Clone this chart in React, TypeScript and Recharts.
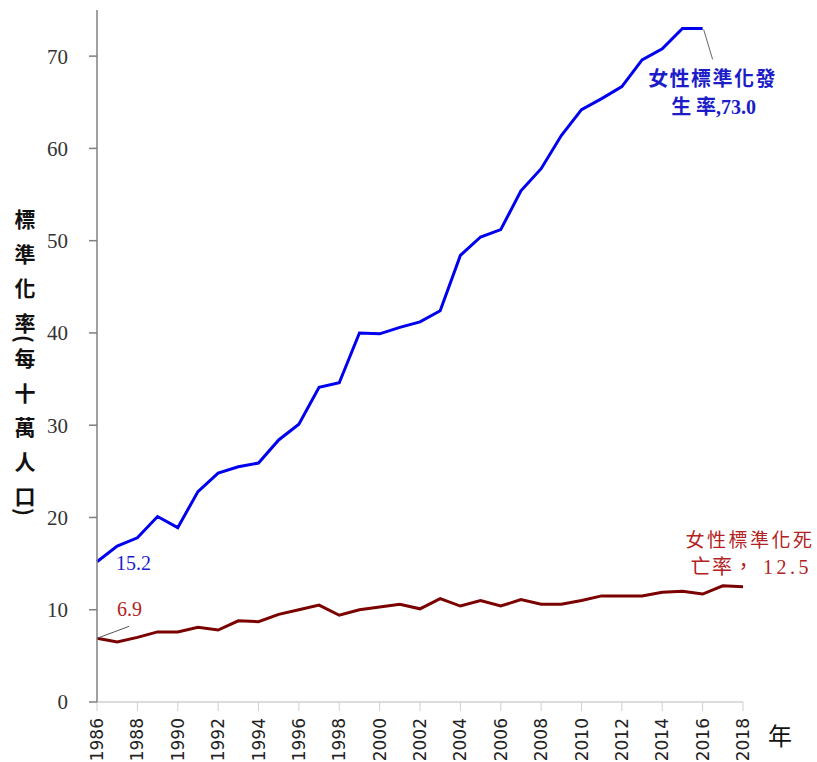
import { LineChart, Line, XAxis, YAxis, Label } from "recharts";

const YEARS = [
  1986, 1987, 1988, 1989, 1990, 1991, 1992, 1993, 1994, 1995, 1996, 1997, 1998, 1999, 2000, 2001, 2002,
  2003, 2004, 2005, 2006, 2007, 2008, 2009, 2010, 2011, 2012, 2013, 2014, 2015, 2016, 2017, 2018,
];

// 女性標準化發生率 (ends 2016)
const INCIDENCE = [
  15.2, 16.9, 17.8, 20.1, 18.9, 22.8, 24.8, 25.5, 25.9, 28.4, 30.1, 34.1, 34.6, 40.0, 39.9, 40.6, 41.2,
  42.4, 48.4, 50.4, 51.2, 55.4, 57.8, 61.4, 64.2, 65.4, 66.7, 69.6, 70.8, 73.0, 73.0, null, null,
];

// 女性標準化死亡率
const MORTALITY = [
  6.9, 6.5, 7.0, 7.6, 7.6, 8.1, 7.8, 8.8, 8.7, 9.5, 10.0, 10.5, 9.4, 10.0, 10.3, 10.6, 10.1,
  11.2, 10.4, 11.0, 10.4, 11.1, 10.6, 10.6, 11.0, 11.5, 11.5, 11.5, 11.9, 12.0, 11.7, 12.6, 12.5,
];

const X_TICKS = [1986, 1988, 1990, 1992, 1994, 1996, 1998, 2000, 2002, 2004, 2006, 2008, 2010, 2012, 2014, 2016, 2018];
const Y_TICKS = [0, 10, 20, 30, 40, 50, 60, 70];
const Y_TITLE = "標準化率(每十萬人口)";
const X_TITLE = "年";

const BLUE = "#0000ee";
const BLUE_TEXT = "#1c1cc8";
const RED = "#7b0000";
const RED_TEXT = "#b22222";
const SERIF = '"Liberation Serif", "Noto Sans CJK TC", serif';
const CJK = '"Noto Sans CJK TC", sans-serif';

const data = YEARS.map((year, i) => ({ year, incidence: INCIDENCE[i], mortality: MORTALITY[i] }));

function YearTick({ x, y, payload }: any) {
  const bx = x + 6;
  return (
    <text
      x={bx}
      y={y}
      transform={`rotate(-90 ${bx} ${y})`}
      textAnchor="end"
      fontFamily='"DejaVu Sans", sans-serif'
      fontSize={17}
      fill="#222"
    >
      {payload.value}
    </text>
  );
}

function YTitle() {
  // vertical writing: brackets get turned sideways by the browser
  const chars = Array.from(Y_TITLE);
  return (
    <text
      x={25}
      y={209}
      fontSize={21}
      fontWeight="bold"
      fill="#111"
      fontFamily={CJK}
      style={{ writingMode: "vertical-rl" } as any}
    >
      {chars.map((ch, i) => {
        const next = chars[i + 1];
        const paren = ch === "(" || ch === ")";
        const ls = paren ? 6 : next === "(" || next === ")" ? 1 : 13.5;
        return (
          <tspan key={i} letterSpacing={ls}>
            {ch}
          </tspan>
        );
      })}
    </text>
  );
}

function incidenceLabel(props: any) {
  const { x, y, index, value } = props;
  if (index === 0) {
    return (
      <text x={x + 19} y={y + 8} fill={BLUE_TEXT} fontSize={20} fontFamily={SERIF}>
        {Number(value).toFixed(1)}
      </text>
    );
  }
  if (index === 30) {
    return (
      <g>
        <line x1={x + 1} y1={y + 1} x2={x + 10} y2={y + 31} stroke="#666" strokeWidth={1} />
        <text x={x + 10} y={y + 58} textAnchor="middle" fill={BLUE_TEXT} fontSize={20} fontWeight="bold"
          fontFamily={SERIF} letterSpacing={1.5}>
          女性標準化發
        </text>
        <text x={x + 11} y={y + 86} textAnchor="middle" fill={BLUE_TEXT} fontSize={20} fontWeight="bold"
          fontFamily={SERIF}>
          {`生 率,${Number(value).toFixed(1)}`}
        </text>
      </g>
    );
  }
  return null;
}

function mortalityLabel(props: any) {
  const { x, y, index, value } = props;
  if (index === 0) {
    return (
      <g>
        <line x1={x} y1={y} x2={x + 32} y2={y - 12} stroke="#555" strokeWidth={1} />
        <text x={x + 20} y={y - 22} fill={RED_TEXT} fontSize={20} fontFamily={SERIF}>
          {Number(value).toFixed(1)}
        </text>
      </g>
    );
  }
  if (index === YEARS.length - 1) {
    return (
      <g>
        <text x={x + 7} y={y - 40} textAnchor="middle" fill={RED_TEXT} fontSize={19} fontFamily={SERIF}
          letterSpacing={2.5}>
          女性標準化死
        </text>
        <text x={x + 69} y={y - 13} textAnchor="end" fill={RED_TEXT} fontSize={20} fontFamily={SERIF}>
          <tspan letterSpacing={1.5}>亡率，</tspan>
          <tspan dx={8} letterSpacing={3.5}>{Number(value).toFixed(1)}</tspan>
        </text>
      </g>
    );
  }
  return null;
}

export default function App() {
  return (
    <div style={{ width: 817, height: 762, background: "#fff" }}>
      <style>{"body{margin:0;}"}</style>
      <LineChart width={817} height={762} data={data} margin={{ top: 10, right: 74, left: 0, bottom: 0 }}>
        <XAxis
          dataKey="year"
          type="number"
          domain={[1986, 2018]}
          ticks={X_TICKS}
          height={60}
          axisLine={{ stroke: "#d0d0d0", strokeWidth: 1.5 }}
          tickLine={{ stroke: "#d0d0d0" }}
          tickSize={9}
          tickMargin={7}
          tick={<YearTick />}
          interval={0}
        >
          <Label
            content={() => (
              <text x={780} y={745} textAnchor="middle" fontSize={24} fill="#111" fontFamily={CJK}>
                {X_TITLE}
              </text>
            )}
          />
        </XAxis>
        <YAxis
          type="number"
          domain={[0, 75]}
          ticks={Y_TICKS}
          width={97}
          axisLine={{ stroke: "#808080", strokeWidth: 1.5 }}
          tickLine={{ stroke: "#808080", strokeWidth: 1.5 }}
          tickSize={8}
          tickMargin={21}
          tick={{ fontFamily: SERIF, fontSize: 21, fill: "#333" }}
          interval={0}
        >
          <Label content={() => <YTitle />} />
        </YAxis>
        <Line
          type="linear"
          dataKey="incidence"
          stroke={BLUE}
          strokeWidth={3}
          dot={false}
          isAnimationActive={false}
          label={incidenceLabel}
        />
        <Line
          type="linear"
          dataKey="mortality"
          stroke={RED}
          strokeWidth={3}
          dot={false}
          isAnimationActive={false}
          label={mortalityLabel}
        />
      </LineChart>
    </div>
  );
}
